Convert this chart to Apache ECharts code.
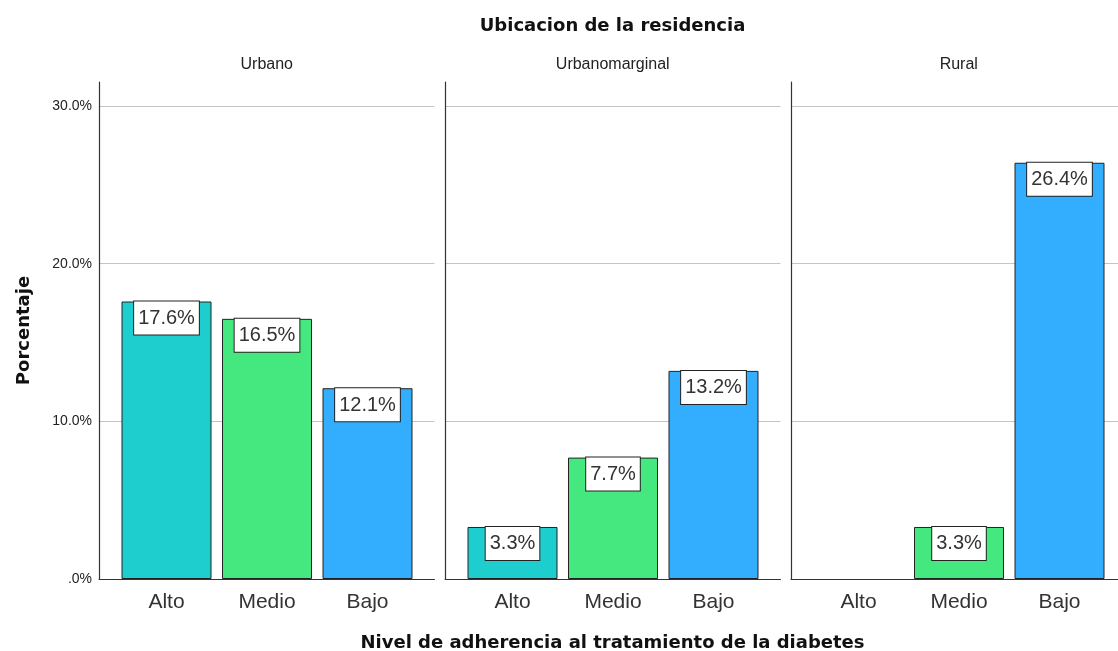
<!DOCTYPE html>
<html>
<head>
<meta charset="utf-8">
<title>Ubicacion de la residencia</title>
<script src="https://cdn.jsdelivr.net/npm/echarts@6/dist/echarts.min.js"></script>
<style>
    html, body { margin: 0; padding: 0; background: #fff; }
    #chart { width: 1118px; height: 651px; }
</style>
</head>
<body>
<div id="chart"></div>
<script>
// datos
var categories = ['Alto', 'Medio', 'Bajo'];
var panels = ['Urbano', 'Urbanomarginal', 'Rural'];
var urbano = [17.6, 16.5, 12.1];
var urbanomarginal = [3.3, 7.7, 13.2];
var rural = [null, 3.3, 26.4];
var panelValues = [urbano, urbanomarginal, rural];
var barColors = ['#1ECECE', '#45E87E', '#33AEFF'];
var yMax = 30, yStep = 10;

var FONT = 'Arial, "Liberation Sans", sans-serif';
var BOLD = '"DejaVu Sans", sans-serif';

var frameLeft = 99, panelStep = 346, panelWidth = 335.5;
var barInset = 17.25, barAreaWidth = 301.5;

var grids = [], xAxes = [], yAxes = [], series = [];
var titles = [
    { text: 'Ubicacion de la residencia', left: 612.5, top: 17, textAlign: 'center', padding: 0,
      textStyle: { fontFamily: BOLD, fontSize: 18, fontWeight: 'bold', color: '#111' } },
    { text: 'Nivel de adherencia al tratamiento de la diabetes', left: 612.5, top: 634, textAlign: 'center', padding: 0,
      textStyle: { fontFamily: BOLD, fontSize: 18, fontWeight: 'bold', color: '#111' } }
];

panels.forEach(function (name, i) {
    var left = frameLeft + i * panelStep;
    var g = i * 3;

    titles.push({ text: name, left: left + panelWidth / 2, top: 57, textAlign: 'center', padding: 0,
        textStyle: { fontFamily: FONT, fontSize: 16, fontWeight: 'normal', color: '#222' } });

    // marco (lineas de eje)
    grids.push({ left: left, width: panelWidth, top: 82, bottom: 72 });
    xAxes.push({ gridIndex: g, type: 'value', min: 0, max: 1,
        axisLine: { show: true, lineStyle: { color: '#333', width: 1 } },
        axisTick: { show: false }, axisLabel: { show: false }, splitLine: { show: false } });
    yAxes.push({ gridIndex: g, type: 'value', min: 0, max: 1,
        axisLine: { show: true, onZero: false, lineStyle: { color: '#333', width: 1.2 } },
        axisTick: { show: false }, axisLabel: { show: false }, splitLine: { show: false },
        name: i === 0 ? 'Porcentaje' : '', nameLocation: 'middle', nameGap: 66,
        nameTextStyle: { fontFamily: BOLD, fontSize: 18, fontWeight: 'bold', color: '#111' } });

    // lineas de cuadricula
    grids.push({ left: left, width: panelWidth, top: 106, bottom: 72 });
    xAxes.push({ gridIndex: g + 1, type: 'value', show: false, min: 0, max: 1 });
    yAxes.push({ gridIndex: g + 1, type: 'value', min: 0, max: yMax, interval: yStep,
        axisLine: { show: false }, axisTick: { show: false },
        axisLabel: { show: i === 0, margin: 7, fontFamily: FONT, fontSize: 14, color: '#222',
            formatter: function (v) { return v === 0 ? '.0%' : v.toFixed(1) + '%'; } },
        splitLine: { show: true, lineStyle: { color: '#c4c4c4', width: 1 } } });

    // barras
    grids.push({ left: left + barInset, width: barAreaWidth, top: 106, bottom: 72 });
    xAxes.push({ gridIndex: g + 2, type: 'category', data: categories,
        axisLine: { show: false }, axisTick: { show: false },
        axisLabel: { margin: 13, fontFamily: FONT, fontSize: 21, color: '#333' } });
    yAxes.push({ gridIndex: g + 2, type: 'value', min: 0, max: yMax, show: false });

    series.push({
        type: 'bar', xAxisIndex: g + 2, yAxisIndex: g + 2, barWidth: 90,
        data: panelValues[i].map(function (v, k) {
            return { value: v, itemStyle: { color: barColors[k] } };
        }),
        itemStyle: { borderColor: '#222', borderWidth: 1 },
        label: {
            show: true, position: 'insideTop', distance: 0,
            formatter: function (p) { return p.value.toFixed(1) + '%'; },
            backgroundColor: '#fff', borderColor: '#222', borderWidth: 1,
            padding: [7, 4, 6, 4], fontFamily: FONT, fontSize: 20, color: '#333'
        },
        emphasis: { disabled: true }
    });
});

var chart = echarts.init(document.getElementById('chart'));
chart.setOption({
    animation: false,
    backgroundColor: '#fff',
    title: titles,
    grid: grids,
    xAxis: xAxes,
    yAxis: yAxes,
    series: series
});
</script>
</body>
</html>
